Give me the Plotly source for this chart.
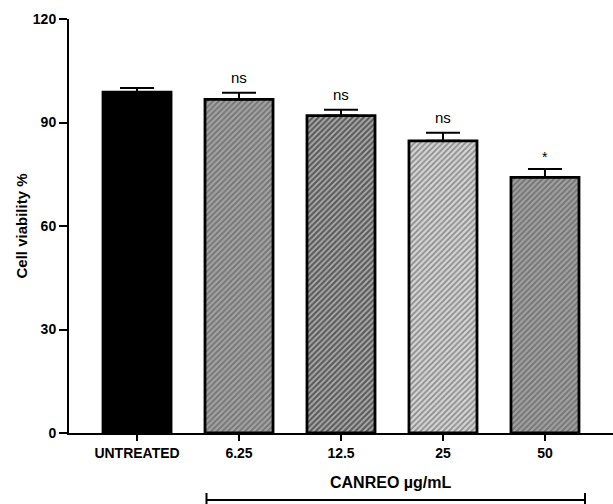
import plotly.graph_objects as go

categories = ["UNTREATED", "6.25", "12.5", "25", "50"]
viability = [98.8, 96.7, 92.0, 84.7, 74.1]
sem = [1.2, 1.9, 1.7, 2.3, 2.4]
significance = ["", "ns", "ns", "ns", "*"]
y_ticks = [0, 30, 60, 90, 120]

bg_colors = ["#000000", "#a2a2a2", "#5c5c5c", "#d4d4d4", "#a0a0a0"]
fg_colors = ["#000000", "#3a3a3a", "#1c1c1c", "#6a6a6a", "#444444"]
shapes_pat = ["", "/", "/", "/", "/"]

FONT = "Liberation Sans, Arial, sans-serif"

fig = go.Figure()
fig.add_trace(go.Bar(
    x=list(range(len(categories))), y=viability, width=0.667,
    marker=dict(
        color=bg_colors,
        line=dict(color="black", width=2.8),
        pattern=dict(shape=shapes_pat, fgcolor=fg_colors, bgcolor=bg_colors,
                     size=4, solidity=0.45, fillmode="overlay"),
    ),
    error_y=dict(type="data", array=sem, arrayminus=[0]*5, symmetric=False,
                 color="black", thickness=2, width=17),
    showlegend=False,
))

for i, (v, e, s) in enumerate(zip(viability, sem, significance)):
    if s:
        fig.add_annotation(x=i, y=v + e, xref="x", yref="y", text=s, showarrow=False,
                           yanchor="bottom", yshift=5 if s == "ns" else 2,
                           font=dict(family=FONT, size=15 if s == "ns" else 14, color="black"))

# y-axis title
fig.add_annotation(xref="paper", yref="paper", x=(20.5 - 69) / 544, y=0.5,
                   text="Cell viability %", textangle=-90, showarrow=False,
                   xanchor="center", yanchor="middle",
                   font=dict(family=FONT, size=15, color="black", weight="bold"))

# bracket label
fig.add_annotation(xref="paper", yref="paper", x=(390.7 - 69) / 544, y=(433 - 482) / 414,
                   text="CANREO µg/mL", showarrow=False, xanchor="center", yanchor="middle",
                   font=dict(family=FONT, size=16, color="black", weight="bold"))

bx0 = (206.5 - 69) / 544
bx1 = (585 - 69) / 544
by = (433 - 500) / 414
byt = (433 - 493) / 414
byb = (433 - 510) / 414
fig.add_shape(type="line", xref="paper", yref="paper", x0=bx0, x1=bx1, y0=by, y1=by,
              line=dict(color="black", width=2))
fig.add_shape(type="line", xref="paper", yref="paper", x0=bx0, x1=bx0, y0=byt, y1=byb,
              line=dict(color="black", width=2))
fig.add_shape(type="line", xref="paper", yref="paper", x0=bx1, x1=bx1, y0=byt, y1=byb,
              line=dict(color="black", width=2))

fig.update_layout(
    width=613, height=504,
    margin=dict(l=69, r=0, t=19, b=71),
    paper_bgcolor="white", plot_bgcolor="white",
    font=dict(family=FONT, color="black"),
    hovermode=False,
)
fig.update_xaxes(
    range=[-0.667, 4.667], tickvals=list(range(len(categories))), ticktext=categories,
    showline=True, linecolor="black", linewidth=2,
    ticks="outside", ticklen=6, tickwidth=2, tickcolor="black",
    tickfont=dict(family=FONT, size=14, color="black", weight="bold"),
    showgrid=False, zeroline=False,
)
fig.update_yaxes(
    range=[0, 120], tickvals=y_ticks, showline=True, linecolor="black", linewidth=2,
    ticks="outside", ticklen=8, tickwidth=2, tickcolor="black",
    tickfont=dict(family=FONT, size=14, color="black", weight="bold"),
    showgrid=False, zeroline=False,
)

fig.write_html("out.html", config={"displayModeBar": False},
               post_script="document.body.style.margin='0px';document.body.style.overflow='hidden';")
